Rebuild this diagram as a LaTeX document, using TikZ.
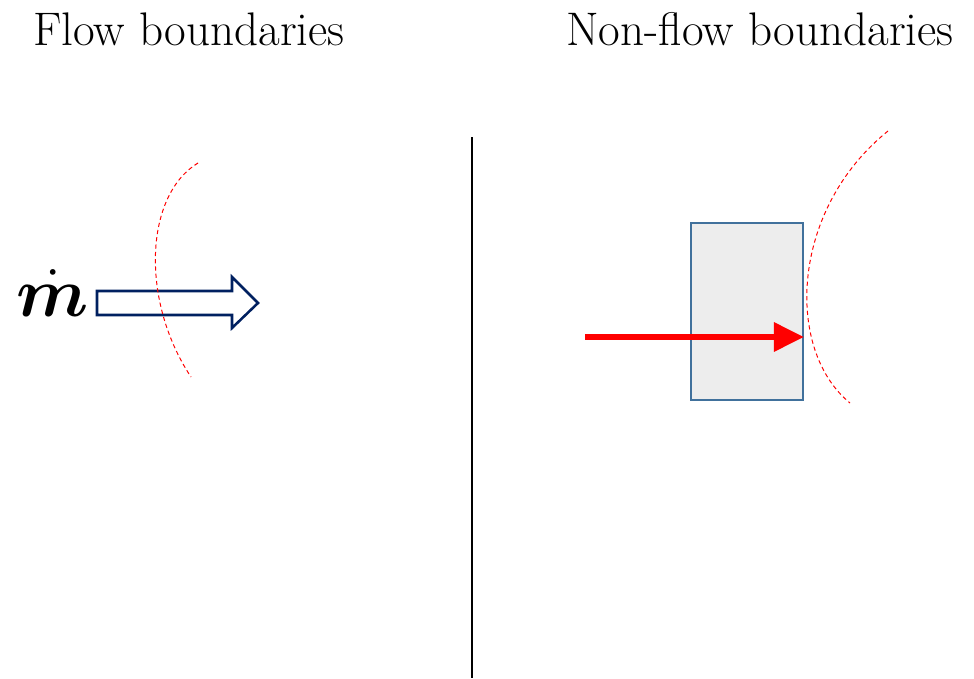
\documentclass[tikz,border=0pt]{standalone}
\usepackage{amsmath, amssymb}
\usepackage{bm}
\usepackage{fontspec}
\usepackage{xcolor}
\usepackage{tikz}
\usetikzlibrary{positioning, arrows.meta, calc}
\definecolor{navyline}{RGB}{0,32,96}
\definecolor{boxline}{RGB}{65,113,156}

\begin{document}
\begin{tikzpicture}[
    x=0.025cm, y=-0.025cm,
    title/.style={anchor=base, inner sep=0pt, font=\fontsize{33.5}{40}\selectfont},
    boundary/.style={red, dashed, line width=0.7pt, dash pattern=on 3pt off 2.2pt},
    hollow/.style={draw=navyline, line width=1.8pt, fill=white, line join=miter},
    heatarr/.style={-{Triangle[length=0.75cm, width=0.7cm]}, red, line width=4.3pt},
    solid/.style={rectangle, draw=boxline, line width=1.4pt, fill=gray!14, minimum width=2.8cm, minimum height=4.425cm, inner sep=0pt},
]
\useasboundingbox (0,0) rectangle (974,678);
% titles
\node[title] (tflow) at (189,45) {Flow boundaries};
\node[title] (tnonflow) at (760,45) {Non-flow boundaries};
% divider
\coordinate (divtop) at (472,137);
\coordinate (divbot) at (472,678);
\draw[line width=0.8pt] (divtop) -- (divbot);
% flow side
\node[anchor=base, inner sep=0pt, font=\Huge, scale=2] (mdot) at (53,316) {$\bm{\dot{m}}$};
\draw[hollow] (97,291) -- (232,291) -- (232,277) -- (258,303) -- (232,328) -- (232,315) -- (97,315) -- cycle;
\draw[boundary] (198,163) .. controls (145,195) and (140,300) .. (191,377);
% non-flow side
\node[solid] (wall) at (747,311.5) {};
\coordinate (heatin) at (585,337);
\draw[heatarr] (heatin) -- (heatin -| wall.east);
\draw[boundary] (888,131) .. controls (790,210) and (785,350) .. (850,403);
\end{tikzpicture}
\end{document}
